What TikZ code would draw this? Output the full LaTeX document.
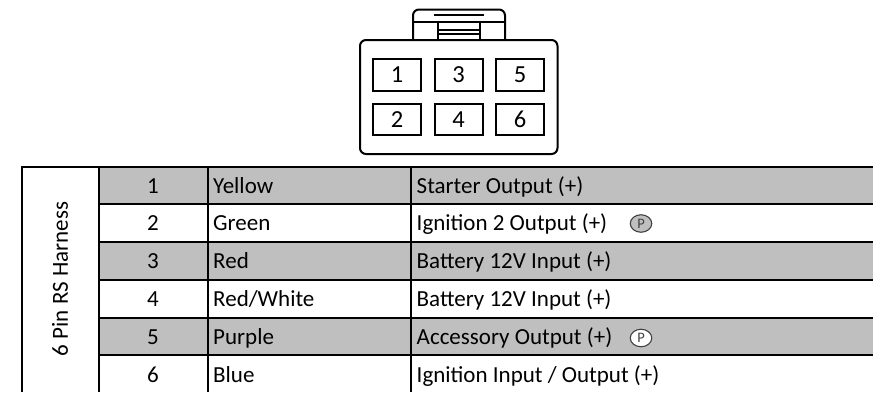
\documentclass[tikz,border=0pt]{standalone}
\usepackage{fontspec}
\usetikzlibrary{shapes.geometric}
\setmainfont{Carlito}
\tikzset{
 x=1bp,y=-1bp,
 rule/.style={line width=2bp,black},
 conn/.style={line width=2bp,black},
 pin/.style={draw=black,line width=2bp,minimum width=48bp,minimum height=31.5bp,inner sep=0pt,font=\fontsize{24.5bp}{26bp}\selectfont},
 band/.style={fill=black!25,draw=none},
 cell/.style={font=\fontsize{23bp}{25bp}\selectfont,inner sep=0pt,anchor=base},
 lcell/.style={cell,anchor=base west},
 pmark/.style={ellipse,draw=black!75,line width=1.1bp,minimum width=21.5bp,minimum height=17.5bp,inner sep=0pt,font=\fontsize{14.5bp}{15bp}\selectfont,text=black!75}
}
\begin{document}
\begin{tikzpicture}
\useasboundingbox (0,0) rectangle (873,392);
% connector
\draw[conn,rounded corners=6bp] (413,40) -- (413,9.5) -- (505,9.5) -- (505,40);
\draw[conn,rounded corners=6bp,fill=white] (360,40) rectangle (557.5,154);
\draw[conn] (434,14.5) -- (484,14.5);
\draw[conn] (413,22) -- (505,22);
\draw[conn] (438,22) -- (438,40);
\draw[conn] (480,22) -- (480,40);
\draw[conn] (438,29.5) -- (480,29.5);
\draw[conn] (438,34) -- (480,34);
\node[pin] (p1) at (397,75) {1};
\node[pin] (p3) at (458.5,75) {3};
\node[pin] (p5) at (520,75) {5};
\node[pin] (p2) at (397,119.5) {2};
\node[pin] (p4) at (458.5,119.5) {4};
\node[pin] (p6) at (520,119.5) {6};
% table bands
\fill[band] (99,166) rectangle (873,203.5);
\fill[band] (99,241) rectangle (873,279);
\fill[band] (99,317) rectangle (873,355);
% rules
\draw[rule] (21,166.5) -- (873,166.5);
\draw[rule] (99,203.5) -- (873,203.5);
\draw[rule] (99,241.5) -- (873,241.5);
\draw[rule] (99,279.5) -- (873,279.5);
\draw[rule] (99,317.5) -- (873,317.5);
\draw[rule] (99,355) -- (873,355);
\draw[rule] (22,166) -- (22,392);
\draw[rule] (98.5,166) -- (98.5,392);
\draw[rule] (207.5,166) -- (207.5,392);
\draw[rule] (411,166) -- (411,392);
% text
\node[font=\fontsize{23bp}{25bp}\selectfont,rotate=90,inner sep=0pt] (title) at (60,279) {6 Pin RS Harness};
\foreach \n/\c/\d/\y in {1/Yellow/Starter Output (+)/193,2/Green/Ignition 2 Output (+)/230.5,3/Red/Battery 12V Input (+)/268,4/Red\slash White/Battery 12V Input (+)/306,5/Purple/Accessory Output (+)/344,6/Blue/Ignition Input \slash\ Output (+)/382}{
 \node[cell] (n\n) at (153,\y) {\n};
 \node[lcell] (c\n) at (213,\y) {\c};
 \node[lcell] (d\n) at (416.5,\y) {\d};
}
\node[pmark,fill=black!25] (pa) at (641,223.5) {P};
\node[pmark,fill=white] (pb) at (641,338) {P};
\end{tikzpicture}
\end{document}
